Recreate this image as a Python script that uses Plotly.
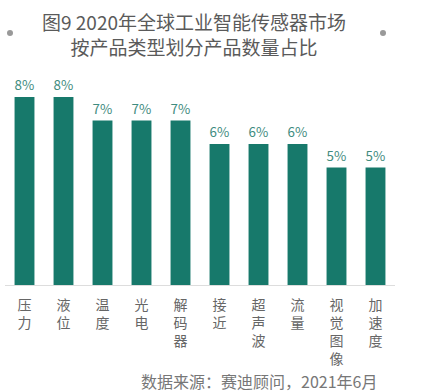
import plotly.graph_objects as go

categories = ["压力", "液位", "温度", "光电", "解码器", "接近", "超声波", "流量", "视觉图像", "加速度"]
values = [8, 8, 7, 7, 7, 6, 6, 6, 5, 5]
value_labels = ["8%", "8%", "7%", "7%", "7%", "6%", "6%", "6%", "5%", "5%"]
title_lines = ["图9 2020年全球工业智能传感器市场", "按产品类型划分产品数量占比"]
source_text = "数据来源：赛迪顾问，2021年6月"

FONT = "Noto Sans CJK SC"
tick_text = ["<br>".join(list(c)) for c in categories]

fig = go.Figure(go.Bar(
    x=categories,
    y=values,
    text=value_labels,
    textposition="outside",
    textfont=dict(family=FONT, size=15, color="#3f8c80"),
    marker=dict(color="#17796b", line=dict(width=0)),
    cliponaxis=False,
    hoverinfo="skip",
))

W, H = 430, 392
ml, mr, mt, mb = 5, 35, 50, 107

fig.update_layout(
    width=W, height=H,
    margin=dict(l=ml, r=mr, t=mt, b=mb, autoexpand=False),
    paper_bgcolor="white", plot_bgcolor="white",
    bargap=0.49,
    showlegend=False,
    font=dict(family=FONT, color="#666666"),
)
fig.update_xaxes(
    tickmode="array", tickvals=categories, ticktext=tick_text,
    tickfont=dict(family=FONT, size=14, color="#666666"),
    showline=True, linecolor="#dddddd", linewidth=1,
    showgrid=False, ticks="", zeroline=False,
    ticklabelstandoff=7,
)
fig.update_yaxes(range=[0, 10], visible=False, showgrid=False, zeroline=False)

fig.add_annotation(
    text="<br>".join(title_lines), xref="paper", yref="paper",
    x=(194 - ml) / (W - ml - mr), y=1 + (mt - 34) / (H - mt - mb),
    xanchor="center", yanchor="middle", showarrow=False,
    font=dict(family=FONT, size=19, color="#5a5a5a"),
)

fig.add_annotation(
    text=source_text, xref="paper", yref="paper",
    x=(259 - ml) / (W - ml - mr), y=-(381 - (H - mb)) / (H - mt - mb),
    xanchor="center", yanchor="middle", showarrow=False,
    font=dict(family=FONT, size=16, color="#777777"),
)

# decorative dots beside title
for cx in [10, 383]:
    fig.add_shape(
        type="circle", xref="paper", yref="paper",
        x0=(cx - 3 - ml) / (W - ml - mr), x1=(cx + 3 - ml) / (W - ml - mr),
        y0=1 + (mt - 36) / (H - mt - mb), y1=1 + (mt - 30) / (H - mt - mb),
        fillcolor="#999999", line=dict(width=0),
    )

fig.write_html(
    "out.html",
    config={"displayModeBar": False},
    post_script="document.body.style.margin='0';document.body.style.overflow='hidden';",
)
